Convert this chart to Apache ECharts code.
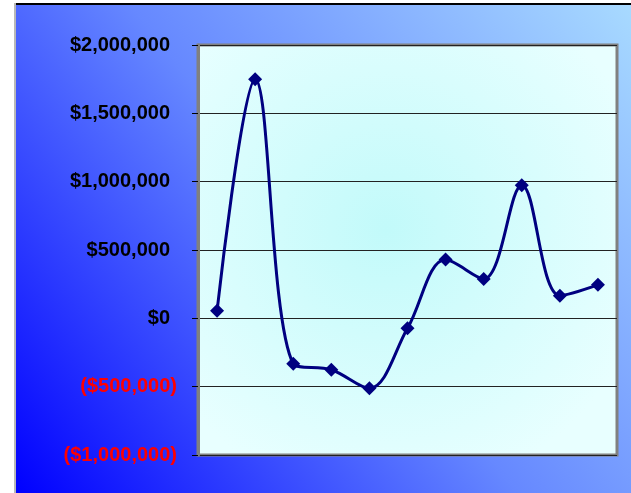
<!DOCTYPE html>
<html>
<head>
<meta charset="utf-8">
<script src="https://cdn.jsdelivr.net/npm/echarts@6/dist/echarts.min.js"></script>
<style>
html,body{margin:0;padding:0;background:#fff;}
#c{width:631px;height:493px;}
</style>
</head>
<body>
<div id="c"></div>
<script>
var categories = ['1','2','3','4','5','6','7','8','9','10','11'];
var values = [55000, 1750000, -332000, -376000, -512000, -73000, 430000, 288000, 974000, 166000, 245000];
var yMin = -1000000, yMax = 2000000, yStep = 500000;

function fmt(v){
  var s = Math.abs(v).toString().replace(/\B(?=(\d{3})+(?!\d))/g, ',');
  return v < 0 ? '{n|($' + s + ')}' : '{p|$' + s + '}';
}

var chart = echarts.init(document.getElementById('c'), null, {renderer:'canvas'});
chart.setOption({
  animation:false,
  backgroundColor:'#ffffff',
  graphic:[
    {type:'rect', z:-10, shape:{x:16,y:5,width:615,height:488},
     style:{fill:new echarts.graphic.LinearGradient(0,1,1,0,[
       {offset:0,color:'#0000ff'},
       {offset:0.5,color:'#6688ff'},
       {offset:1,color:'#a8daff'}])}},
    {type:'rect', z:-9, shape:{x:15,y:3,width:616,height:2}, style:{fill:'#000000'}},
    {type:'rect', z:-9, shape:{x:14,y:3,width:2,height:490}, style:{fill:'#b8b8b8'}}
  ],
  grid:{left:198, top:45, right:14, bottom:38, show:true,
    borderColor:'#808080', borderWidth:3,
    backgroundColor:new echarts.graphic.RadialGradient(0.45,0.45,0.65,[
      {offset:0,color:'#c2fafa'},
      {offset:1,color:'#e8ffff'}])},
  xAxis:{type:'category', data:categories, boundaryGap:true,
    axisLine:{show:false}, axisTick:{show:false}, axisLabel:{show:false}, splitLine:{show:false}},
  yAxis:{type:'value', min:yMin, max:yMax, interval:yStep,
    axisLine:{show:true, lineStyle:{color:'#808080', width:3}},
    axisTick:{show:true, length:6, lineStyle:{color:'#000', width:1}},
    axisLabel:{margin:21, formatter:fmt,
      rich:{
        p:{color:'#000', fontSize:20, fontWeight:'bold', fontFamily:'Liberation Sans, Arial, sans-serif', padding:[0,7,0,0]},
        n:{color:'#ff0000', fontSize:20, fontWeight:'bold', fontFamily:'Liberation Sans, Arial, sans-serif'}
      }},
    splitLine:{show:true, lineStyle:{color:'#222', width:1}}},
  series:[{
    type:'line', data:values, smooth:0.35,
    symbol:'diamond', symbolSize:14,
    lineStyle:{color:'#000080', width:3},
    itemStyle:{color:'#000080'}
  }]
});
</script>
</body>
</html>
